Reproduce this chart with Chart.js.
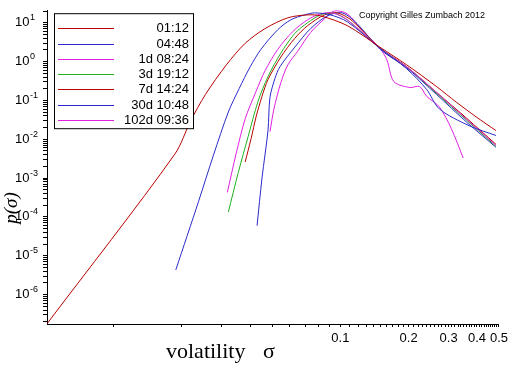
<!DOCTYPE html>
<html>
<head>
<meta charset="utf-8">
<script src="https://cdn.jsdelivr.net/npm/chart.js@4.4.0/dist/chart.umd.min.js"></script>
<style>
  html, body { margin: 0; padding: 0; background: #fff; }
</style>
</head>
<body>
<canvas id="myChart" width="512" height="366"></canvas>
<script>
// horizons of the 7 curves
const seriesLabels = ['01:12', '04:48', '1d 08:24', '3d 19:12', '7d 14:24', '30d 10:48', '102d 09:36'];
const seriesColors = ['#b80000', '#2a2ac8', '#e020e0', '#20b020', '#b80000', '#2a2ac8', '#e020e0'];

// volatility (x) and density p(sigma) (y)
const sigma1 = [0.0051, 0.01865, 0.02191, 0.02547, 0.03146, 0.03809, 0.04657, 0.05871, 0.07178, 0.08178, 0.1073, 0.1495, 0.1962, 0.2652, 0.3243, 0.3966, 0.485];
const p1 = [1.77e-7, 0.00413, 0.0298, 0.143, 0.82, 2.95, 7.05, 13.4, 15.9, 15.0, 8.4, 2.34, 0.82, 0.228, 0.0901, 0.0377, 0.0167];

const sigma2 = [0.01884, 0.02375, 0.02761, 0.03211, 0.03585, 0.04006, 0.04474, 0.05308, 0.06051, 0.06964, 0.077, 0.09043, 0.1073, 0.1495, 0.1962, 0.2399, 0.2734, 0.3695, 0.485];
const p2 = [4.33e-6, 2.54e-4, 0.0039, 0.0504, 0.203, 0.731, 2.08, 6.66, 11.9, 15.9, 17.9, 15.9, 10.6, 2.2, 0.65, 0.192, 0.06, 0.0223, 0.0125];

const sigma3 = [0.03178, 0.03479, 0.03809, 0.04254, 0.04657, 0.05308, 0.06173, 0.07178, 0.08178, 0.09228, 0.1073, 0.1495, 0.1962, 0.2652, 0.3585, 0.485];
const p3 = [4.28e-4, 0.00438, 0.0335, 0.171, 0.579, 2.08, 5.93, 11.9, 16.9, 17.9, 11.9, 2.2, 0.731, 0.161, 0.0335, 0.00697];

const sigma4 = [0.03211, 0.03549, 0.03926, 0.04341, 0.048, 0.0547, 0.06298, 0.07178, 0.08178, 0.09228, 0.1073, 0.1495, 0.1962, 0.2652, 0.3585, 0.485];
const p4 = [1.34e-4, 0.00137, 0.0118, 0.0955, 0.409, 1.65, 5.28, 10.0, 15.9, 17.9, 11.9, 2.2, 0.731, 0.152, 0.0316, 0.00658];

const sigma5 = [0.03809, 0.04046, 0.04254, 0.04519, 0.048, 0.0547, 0.06298, 0.07178, 0.08513, 0.09703, 0.1128, 0.1495, 0.1962, 0.2652, 0.3585, 0.485];
const p5 = [0.0026, 0.0105, 0.0377, 0.128, 0.343, 1.31, 3.95, 8.4, 15.9, 17.9, 11.2, 2.2, 0.731, 0.161, 0.0355, 0.00739];

const sigma6 = [0.04297, 0.04519, 0.048, 0.04898, 0.0515, 0.05415, 0.06298, 0.07396, 0.08774, 0.102, 0.1186, 0.1495, 0.1962, 0.2652, 0.3585, 0.485];
const p6 = [5.93e-5, 1.02e-3, 0.0167, 0.12, 0.364, 0.731, 2.34, 7.06, 15.0, 17.9, 9.43, 2.08, 0.689, 0.143, 0.0282, 0.00621];

const sigma7 = [0.04898, 0.05098, 0.0547, 0.05871, 0.0649, 0.07396, 0.08513, 0.09415, 0.1073, 0.1248, 0.1495, 0.1604, 0.1721, 0.2022, 0.2236, 0.2399, 0.2734, 0.3084, 0.3479];
const p7 = [0.0157, 0.06, 0.288, 0.82, 1.85, 5.59, 12.6, 20.1, 16.9, 6.28, 2.2, 1.1, 0.305, 0.215, 0.228, 0.128, 0.0674, 0.0187, 0.00328];

const allSigma = [sigma1, sigma2, sigma3, sigma4, sigma5, sigma6, sigma7];
const allP = [p1, p2, p3, p4, p5, p6, p7];

// axis ticks
const xTickLabels = [0.1, 0.2, 0.3, 0.4, 0.5];
const yDecades = [-6, -5, -4, -3, -2, -1, 0, 1];

const xTickValues = [];
for (let k = 1; k <= 50; k++) xTickValues.push(k / 100);
const yTickValues = [];
for (let e = -7; e <= 1; e++) {
  for (let k = 1; k <= 9; k++) {
    const v = k * Math.pow(10, e);
    if (v >= 1.75e-7 && v <= 21) yTickValues.push(v);
  }
}

const FONT = "'Liberation Sans', Arial, sans-serif";

const datasets = allSigma.map((xs, i) => ({
  label: seriesLabels[i],
  data: xs.map((x, j) => ({ x: x, y: allP[i][j] })),
  borderColor: seriesColors[i],
  borderWidth: 1,
  pointRadius: 0,
  fill: false,
  tension: 0.3
}));

const extras = {
  id: 'extras',
  afterDraw(chart) {
    const ctx = chart.ctx;
    const area = chart.chartArea;
    const ys = chart.scales.y;
    ctx.save();
    ctx.fillStyle = '#000';

    // y tick labels 10^n
    ctx.textBaseline = 'middle';
    ctx.textAlign = 'left';
    yDecades.forEach(e => {
      const py = ys.getPixelForValue(Math.pow(10, e));
      ctx.font = '13px ' + FONT;
      ctx.fillText('10', 15, py);
      const w = ctx.measureText('10').width;
      ctx.font = '9px ' + FONT;
      ctx.fillText(String(e), 15 + w + 0.5, py - 5);
    });

    // legend box
    const bx = area.left + 7, by = area.top + 3, bw = 139, bh = 115;
    ctx.fillStyle = '#fff';
    ctx.fillRect(bx, by, bw, bh);
    ctx.strokeStyle = '#000';
    ctx.lineWidth = 1;
    ctx.strokeRect(bx + 0.5, by + 0.5, bw, bh);
    ctx.font = '13px ' + FONT;
    ctx.textAlign = 'right';
    chart.data.datasets.forEach((ds, i) => {
      const yy = Math.round(by + 15 + i * 15.3) + 0.5;
      ctx.strokeStyle = ds.borderColor;
      ctx.beginPath();
      ctx.moveTo(bx + 4, yy);
      ctx.lineTo(bx + 60, yy);
      ctx.stroke();
      ctx.fillStyle = '#000';
      ctx.fillText(ds.label, bx + bw - 4, yy);
    });

    // copyright
    ctx.textAlign = 'left';
    ctx.font = '9px ' + FONT;
    ctx.fillText('Copyright Gilles Zumbach 2012', 359, 16);

    // axis titles
    ctx.textBaseline = 'alphabetic';
    ctx.font = "22px 'Liberation Serif', 'Times New Roman', serif";
    ctx.fillText('volatility', 166, 358);
    ctx.fillText('\u03C3', 263, 358);

    ctx.translate(17, 208);
    ctx.rotate(-Math.PI / 2);
    ctx.textAlign = 'center';
    ctx.font = "italic 19px 'Liberation Serif', 'Times New Roman', serif";
    ctx.fillText('p(\u03C3)', 0, 0);
    ctx.restore();
  }
};

const myChart = new Chart(document.getElementById('myChart').getContext('2d'), {
  type: 'line',
  data: { datasets: datasets },
  options: {
    responsive: false,
    animation: false,
    devicePixelRatio: 1,
    layout: { padding: { top: 4, right: 9, left: 0, bottom: 0 } },
    plugins: { legend: { display: false }, tooltip: { enabled: false } },
    scales: {
      x: {
        type: 'logarithmic',
        min: 0.0051,
        max: 0.5,
        border: { color: '#000', width: 1 },
        grid: { drawOnChartArea: false, drawTicks: true, tickLength: 3, color: '#000' },
        afterBuildTicks: s => { s.ticks = xTickValues.map(v => ({ value: v })); },
        afterFit: s => { s.height = 42; },
        ticks: {
          autoSkip: false,
          maxRotation: 0,
          padding: 4,
          color: '#000',
          font: { family: FONT, size: 13 },
          callback: v => xTickLabels.includes(v) ? String(v) : ''
        }
      },
      y: {
        type: 'logarithmic',
        min: 1.75e-7,
        max: 21,
        border: { color: '#000', width: 1 },
        grid: { drawOnChartArea: false, drawTicks: true, tickLength: 4, color: '#000' },
        afterBuildTicks: s => { s.ticks = yTickValues.map(v => ({ value: v })); },
        afterFit: s => { s.width = 47; },
        ticks: { autoSkip: false, callback: () => '' }
      }
    }
  },
  plugins: [extras]
});
</script>
</body>
</html>
